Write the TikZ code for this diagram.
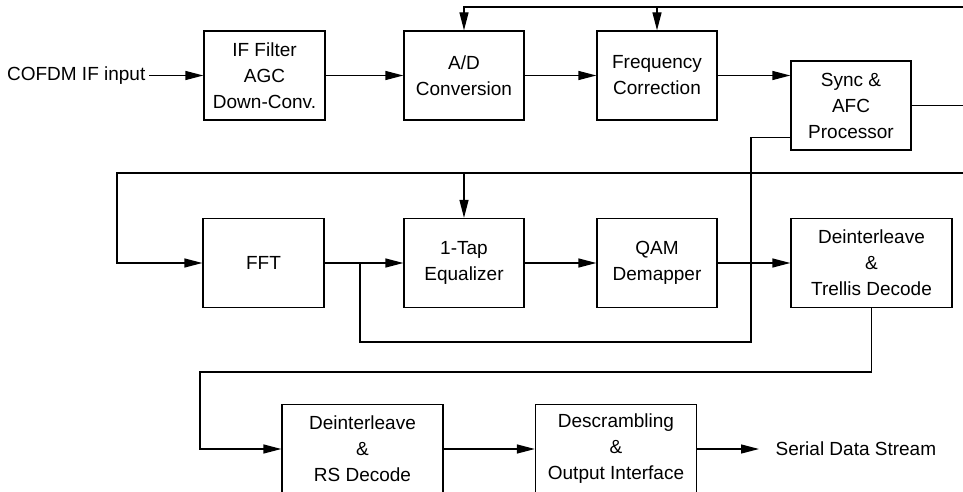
\documentclass[tikz,border=0pt]{standalone}
\usepackage{fontspec}
\setmainfont{Liberation Sans}
\usetikzlibrary{arrows.meta}

\begin{document}
\begin{tikzpicture}[x=1pt,y=-1pt,line width=1.3pt,
        font=\fontsize{19}{26}\selectfont,
        blk/.style={draw,minimum width=120pt,minimum height=89pt,align=center,inner sep=2pt},
        wide/.style={blk,minimum width=161pt},
        arr/.style={-{Triangle[length=18pt,width=9pt]}}]
        \useasboundingbox (0,0) rectangle (963,492);

        \node[anchor=east,inner xsep=3pt] (in) at (149,75.5) {COFDM IF input};
        \node[blk,minimum width=121pt] (a1) at (264.5,75.5) {IF Filter\\AGC\\Down-Conv.};
        \node[blk] (a2) at (464,75.5) {A/D\\Conversion};
        \node[blk] (a3) at (657,75.5) {Frequency\\Correction};
        \node[blk] (a4) at (851,105.5) {Sync \&\\AFC\\Processor};
        \node[blk,minimum width=121pt] (a5) at (263.5,263) {FFT};
        \node[blk] (a6) at (464,263) {1-Tap\\Equalizer};
        \node[blk] (a7) at (657,263) {QAM\\Demapper};
        \node[wide] (a8) at (871.5,263) {Deinterleave\\\&\\Trellis Decode};
        \node[wide] (a9) at (362.5,449) {Deinterleave\\\&\\RS Decode};
        \node[wide] (a10) at (616,449) {Descrambling\\\&\\Output Interface};
        \node[anchor=west,inner xsep=16pt] (out) at (759,449) {Serial Data Stream};

        \coordinate (t1) at (963,7);
        \coordinate (t2) at (963,105.5);
        \coordinate (t3) at (963,173);
        \coordinate (l1) at (117,173);
        \coordinate (k1) at (360,263);
        \coordinate (k2) at (751,342);
        \coordinate (l2) at (200,372);

        \draw[arr] (in) -- (a1);
        \draw[arr] (a1) -- (a2);
        \draw[arr] (a2) -- (a3);
        \draw[arr] (a3.east) -- (a3.east -| a4.west);
        \draw[arr] (t1) -| (a2.north);
        \draw[arr] (t1 -| a3) -- (a3.north);
        \draw (a4.east) -- (t2);
        \draw[arr] (t3) -- (l1) |- (a5.west);
        \draw[arr] (t3 -| a6) -- (a6.north);
        \draw[arr] (a5) -- (a6);
        \draw[arr] (a6) -- (a7);
        \draw[arr] (a7) -- (a8);
        \draw (k1) |- (k2) |- ([yshift=13pt]a4.south west);
        \draw[arr] (a8.south) |- (l2) |- (a9.west);
        \draw[arr] (a9) -- (a10);
        \draw[arr] (a10) -- (out);
\end{tikzpicture}
\end{document}
